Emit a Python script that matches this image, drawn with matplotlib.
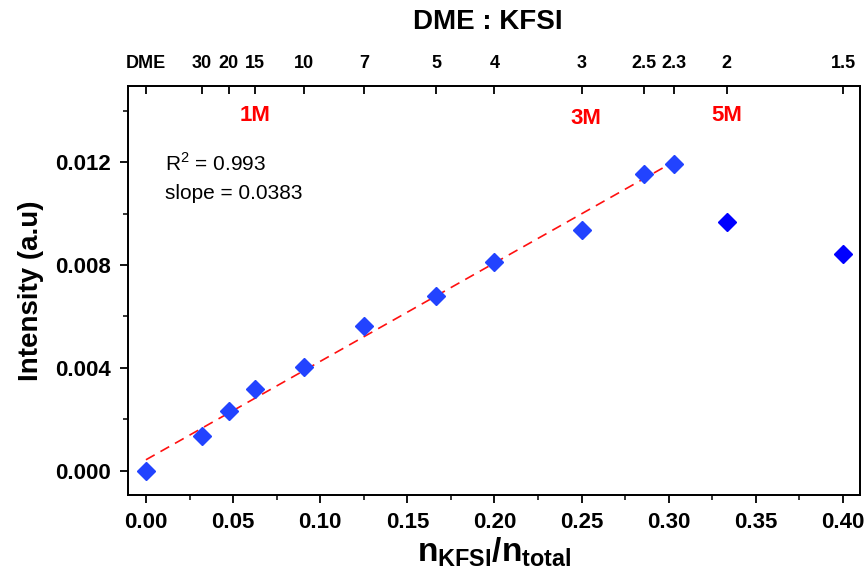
import matplotlib
matplotlib.use("Agg")
import matplotlib.pyplot as plt
from matplotlib.ticker import MultipleLocator
import numpy as np

# ---------------------------------------------------------------------------
# Data
# ---------------------------------------------------------------------------
x_frac = [0.0, 0.0323, 0.0476, 0.0625, 0.0909, 0.125, 0.1667, 0.20,
          0.25, 0.2857, 0.303, 0.3333, 0.40]
intensity = [0.0, 0.00136, 0.00233, 0.00318, 0.00402, 0.00564, 0.0068,
             0.00813, 0.00937, 0.01156, 0.01193, 0.00967, 0.00844]
n_fit = 11  # points in the linear region (first 11)

fit_slope = 0.0383
fit_intercept = 0.00042
fit_x = [0.0, 0.30]

top_ratios = [30, 20, 15, 10, 7, 5, 4, 3, 2.5, 2.3, 2, 1.5]
top_labels = ["DME", "30", "20", "15", "10", "7", "5", "4", "3", "2.5", "2.3", "2", "1.5"]

conc_labels = ["1M", "3M", "5M"]
conc_x = [0.0626, 0.2525, 0.3334]
conc_y = [0.01384, 0.01372, 0.01384]

# ---------------------------------------------------------------------------
# Style
# ---------------------------------------------------------------------------
plt.rcParams["font.family"] = ["Liberation Sans", "DejaVu Sans"]
plt.rcParams["mathtext.fontset"] = "custom"
plt.rcParams["mathtext.rm"] = "Liberation Sans"
plt.rcParams["mathtext.bf"] = "Liberation Sans:bold"

fig = plt.figure(figsize=(8.66, 5.8), dpi=100)
ax = fig.add_axes([0.1478, 0.1466, 0.9931 - 0.1478, 0.8517 - 0.1466])

# fit line
fx = np.array(fit_x)
ax.plot(fx, fit_slope * fx + fit_intercept, color="#ff1010", lw=1.2,
        ls=(0, (6, 4)), zorder=2)

# data points
ax.plot(x_frac[:n_fit], intensity[:n_fit], ls="none", marker="D", ms=9,
        color="#2243ff", mec="#2243ff", zorder=3)
ax.plot(x_frac[n_fit:], intensity[n_fit:], ls="none", marker="D", ms=9,
        color="#0000ff", mec="#0000ff", zorder=3)

ax.set_xlim(-0.0103, 0.4098)
ax.set_ylim(-0.00095, 0.01497)

ax.xaxis.set_major_locator(MultipleLocator(0.05))
ax.xaxis.set_minor_locator(MultipleLocator(0.025))
ax.yaxis.set_major_locator(MultipleLocator(0.004))
ax.yaxis.set_minor_locator(MultipleLocator(0.002))
ax.xaxis.set_major_formatter(plt.FormatStrFormatter("%.2f"))
ax.yaxis.set_major_formatter(plt.FormatStrFormatter("%.3f"))

for sp in ax.spines.values():
    sp.set_linewidth(1.3)

ax.tick_params(which="major", direction="out", length=6, width=1.3,
               labelsize=16, pad=6)
ax.tick_params(which="minor", direction="out", length=3.5, width=1.1)
ax.tick_params(top=False, right=False, which="both")
for lbl in ax.get_xticklabels() + ax.get_yticklabels():
    lbl.set_fontweight("bold")

ax.set_ylabel("Intensity (a.u)", fontsize=20, fontweight="bold", labelpad=8)
ax.set_xlabel(r"$\mathbf{n_{KFSI}/n_{total}}$", fontsize=24, labelpad=2)

# annotations
ax.text(0.0108, 0.01195, r"R$^2$ = 0.993", fontsize=15, va="center", ha="left")
ax.text(0.0108, 0.01078, "slope = 0.0383", fontsize=15, va="center", ha="left")
for lab, cx, cy in zip(conc_labels, conc_x, conc_y):
    ax.text(cx, cy, lab, color="#ff0000", fontsize=16, fontweight="bold",
            ha="center", va="center")

# top axis: DME : KFSI ratio
top = ax.twiny()
top.set_xlim(ax.get_xlim())
top_pos = [0.0] + [1.0 / (1.0 + r) for r in top_ratios]
top.set_xticks(top_pos)
top.set_xticklabels(top_labels, fontsize=13, fontweight="bold")
top.tick_params(axis="x", direction="in", length=6, width=1.3, pad=10)
top.xaxis.set_minor_locator(plt.NullLocator())
for sp in top.spines.values():
    sp.set_linewidth(1.3)
top.set_xlabel("DME : KFSI", fontsize=20, fontweight="bold", labelpad=8)
top.xaxis.set_label_coords(0.491, 1.139)

fig.savefig("out.png", dpi=100, facecolor="white")
